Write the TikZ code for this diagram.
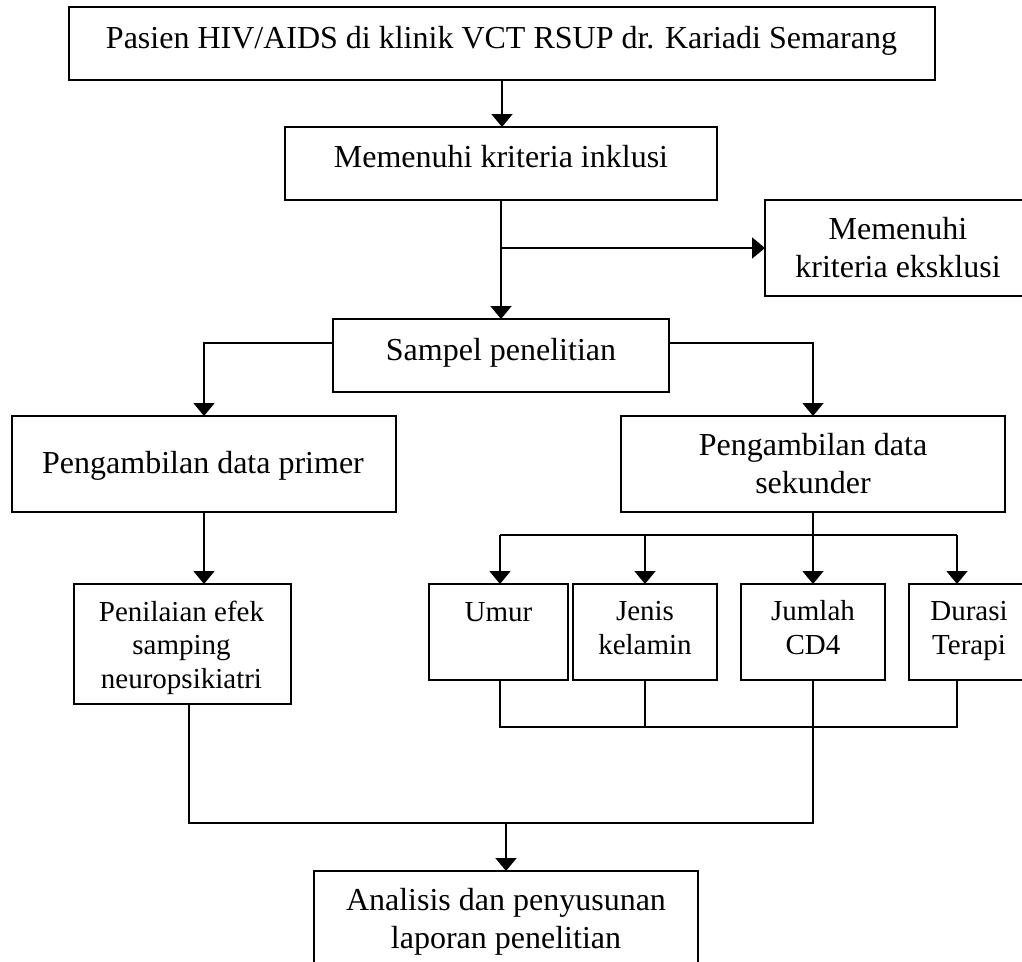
\documentclass[tikz,border=0pt]{standalone}
\usepackage{fontspec}
\setmainfont{Liberation Serif}
\usetikzlibrary{arrows.meta}
\begin{document}
\begin{tikzpicture}[x=1pt,y=-1pt,
  box/.style={draw, line width=1.8pt, inner sep=0pt, outer sep=0pt, anchor=north west},
  big/.style={font=\fontsize{32}{38}\selectfont, align=center, anchor=base, inner sep=0pt},
  small/.style={font=\fontsize{29}{33.5}\selectfont, align=center, anchor=base, inner sep=0pt},
  conn/.style={line width=1.8pt},
  arr/.style={conn, -{Triangle[width=21pt,length=13pt]}}]
\useasboundingbox (0,0) rectangle (1022,961);
\clip (0,0) rectangle (1022,961);
% boxes
\node[box, minimum width=866pt, minimum height=73pt] (top) at (69,7) {};
\node[box, minimum width=432pt, minimum height=73pt] (inkl) at (285,127) {};
\node[box, minimum width=267pt, minimum height=96pt] (eksk) at (765,200) {};
\node[box, minimum width=336pt, minimum height=73pt] (sampel) at (333,319) {};
\node[box, minimum width=384pt, minimum height=96pt] (primer) at (12,416) {};
\node[box, minimum width=384pt, minimum height=96pt] (sek) at (621,416) {};
\node[box, minimum width=217pt, minimum height=120pt] (pen) at (74,584) {};
\node[box, minimum width=139pt, minimum height=96pt] (umur) at (429,584) {};
\node[box, minimum width=144pt, minimum height=96pt] (jenis) at (573,584) {};
\node[box, minimum width=144pt, minimum height=96pt] (jumlah) at (741,584) {};
\node[box, minimum width=121pt, minimum height=96pt] (durasi) at (909,584) {};
\node[box, minimum width=384pt, minimum height=130pt] (anal) at (314,871) {};
% texts (anchor=base is the baseline of the last line)
\node[big] (ttop) at (501.5,48) {Pasien HIV/AIDS di klinik VCT RSUP dr. Kariadi Semarang};
\node[big] (tinkl) at (501,167) {Memenuhi kriteria inklusi};
\node[big] (teksk) at (898,277) {Memenuhi\\kriteria eksklusi};
\node[big] (tsampel) at (501,360) {Sampel penelitian};
\node[big] (tprimer) at (203,473) {Pengambilan data primer};
\node[big] (tsek) at (813,493) {Pengambilan data\\sekunder};
\node[small] (tpen) at (181.5,688) {Penilaian efek\\samping\\neuropsikiatri};
\node[small] (tumur) at (498.5,621) {Umur};
\node[small] (tjenis) at (645,654) {Jenis\\kelamin};
\node[small] (tjumlah) at (813,654) {Jumlah\\CD4};
\node[small] (tdurasi) at (969,654) {Durasi\\Terapi};
\node[big] (tanal) at (506,948) {Analisis dan penyusunan\\laporan penelitian};
% helper coordinates
\coordinate (yA) at (0,343);
\coordinate (bL) at (500,535);
\coordinate (bR) at (957,535);
\coordinate (cL) at (500,727);
\coordinate (cR) at (957,727);
\coordinate (dL) at (189,823);
\coordinate (dM) at (506,823);
% connectors
\draw[arr] (top.south) -- (top.south |- inkl.north);
\draw[arr] (inkl.south) -- (sampel.north);
\draw[arr] (inkl.south |- eksk.west) -- (eksk.west);
\draw[arr] (sampel.west |- yA) -| (primer.north);
\draw[arr] (sampel.east |- yA) -| (sek.north);
\draw[arr] (primer.south) -- (primer.south |- pen.north);
\draw[arr] (sek.south) -- (jumlah.north);
\draw[conn] (bL) -- (bR);
\draw[arr] (bL) -- (bL |- umur.north);
\draw[arr] (jenis.north |- bL) -- (jenis.north);
\draw[arr] (bR) -- (bR |- durasi.north);
\draw[conn] (cL |- umur.south) -- (cL) -- (cR) -- (cR |- durasi.south);
\draw[conn] (jenis.south) -- (jenis.south |- cL);
\draw[conn] (dL |- pen.south) -- (dL) -| (jumlah.south);
\draw[arr] (dM) -- (anal.north);
\end{tikzpicture}
\end{document}
